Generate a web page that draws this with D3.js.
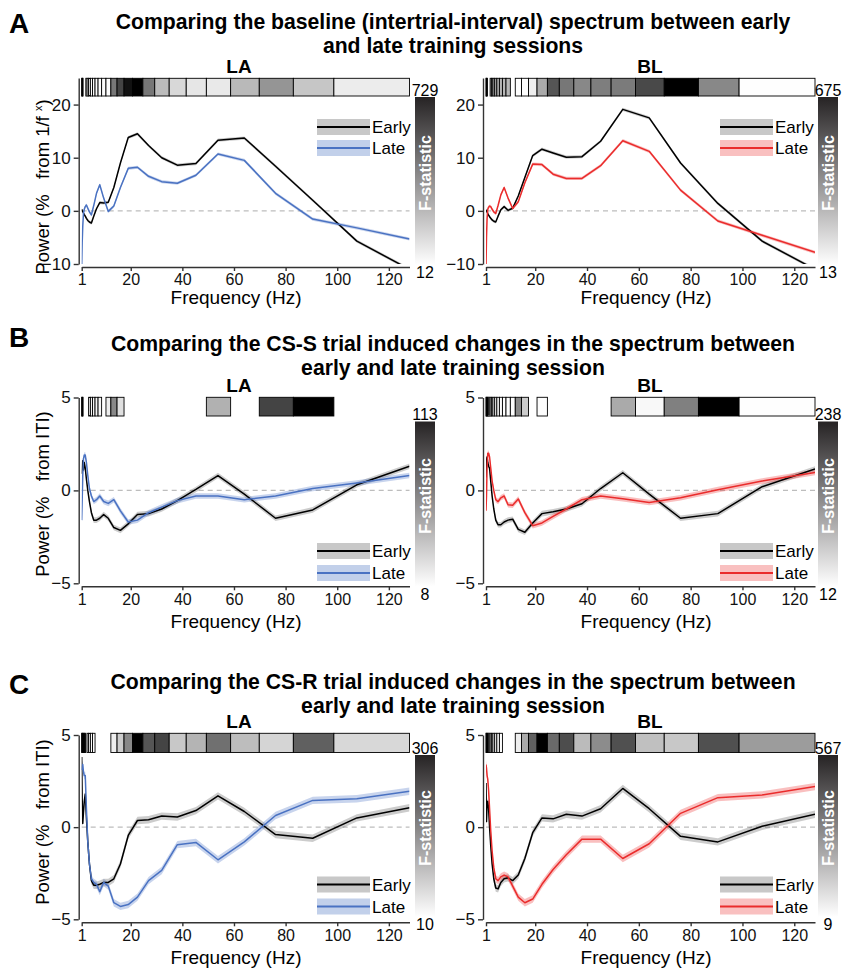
<!DOCTYPE html>
<html>
<head>
<meta charset="utf-8">
<script src="https://cdn.jsdelivr.net/npm/d3@7"></script>
<style>
  body { margin: 0; background: #fff; }
  svg { display: block; }
  text { font-family: "Liberation Sans", Arial, Helvetica, sans-serif; }
</style>
</head>
<body>
<div id="chart"></div>
<script>
// Frequencies (Hz) of the spectrum bins
const freqs = [1, 1.19, 1.41, 1.68, 2, 2.38, 2.83, 3.36, 4, 4.76, 5.66, 6.73, 8, 9.51, 11.3, 13.45,
    16, 19.03, 22.6, 26.9, 32, 38.05, 45.25, 53.8, 64, 76.1, 90.5, 107.6, 128];
// Edges of the F-statistic cells (the last cell covers the two top bins)
const cellEdges = [1, 1.09, 1.3, 1.54, 1.83, 2.18, 2.59, 3.08, 3.67, 4.36, 5.19, 6.17, 7.34, 8.72,
    10.4, 12.3, 14.7, 17.4, 20.7, 24.7, 29.3, 34.9, 41.5, 49.3, 58.7, 69.8, 83, 98.7, 128];
const xTicks = [1, 20, 40, 60, 80, 100, 120];

// A: baseline spectrum
const aLaEarly = [0.3, 0.0, -0.1, -0.4, -0.7, -1.0, -1.4, -1.8, -2.1, -2.3, -1.0, 0.4, 1.55, 1.5, 1.6, 4.4,
    9.0, 13.8, 14.5, 12.3, 10.0, 8.6, 8.9, 13.3, 13.7, 8.4, 2.0, -5.7, -11];
const aLaLate = [-10.5, -6, -2.9, -0.5, 0.3, 0.8, 1.1, 0.5, -0.2, -0.75, 1.0, 3.3, 4.9, 2.4, -0.1, 0.9,
    4.4, 8.0, 8.2, 6.5, 5.5, 5.2, 6.7, 10.7, 9.5, 3.3, -1.55, -3.2, -5.3];
const aBlEarly = [0.2, 0.0, -0.2, -0.5, -0.8, -1.1, -1.4, -1.7, -1.95, -2.1, -1.0, 0.2, 0.8, 0.1, 0.5, 2.8,
    6.3, 10.4, 11.6, 10.9, 10.1, 10.2, 13.1, 19.1, 17.5, 9.0, 1.4, -5.7, -11];
const aBlLate = [-10.5, -5, -1.5, 0.3, 0.7, 0.9, 0.8, 0.3, -0.2, -0.5, 1.0, 3.0, 4.4, 2.4, 0.45, 1.7,
    5.3, 8.8, 8.7, 6.9, 6.1, 6.1, 8.5, 13.2, 11.2, 3.9, -1.9, -4.6, -7.8];
const aLaF = [729, 710, 690, null, null, null, 20, 20, 20, 20, 20, 20, 20, 20, 20,
    394, 538, 681, 729, 394, 203, 122, 82, 74, 209, 310, 172, 65];
const aBlF = [675, 660, 640, null, null, null, 200, 200, 200, 200, 200, 200, 200, 200, null,
    15, 15, 57, 234, 454, 366, 322, 348, 356, 486, 675, 322, 15];
const aLaRange = [12, 729];
const aBlRange = [13, 675];

// B: CS-S trial induced changes
const bLaEarly = [0.9, 1.3, 1.6, 1.1, 1.5, 1.2, 0.6, 0.0, -0.6, -1.2, -1.6, -1.6, -1.5, -1.3, -1.5, -2.0,
    -2.15, -1.8, -1.3, -1.25, -1.0, -0.55, 0.05, 0.8, -0.2, -1.5, -1.05, 0.3, 1.3];
const bLaLate = [-1.6, -0.5, 0.8, 1.7, 1.9, 1.9, 1.5, 0.8, 0.1, -0.3, -0.6, -0.5, -0.3, -0.6, -0.7, -0.5,
    -1.1, -1.7, -1.6, -1.2, -0.9, -0.55, -0.3, -0.3, -0.5, -0.3, 0.1, 0.4, 0.8];
const bBlEarly = [0.7, 1.6, 1.8, 1.5, 1.3, 1.2, 0.5, -0.3, -1.0, -1.6, -1.85, -1.85, -1.7, -1.6, -1.55, -2.1,
    -2.25, -1.75, -1.25, -1.15, -1.0, -0.72, 0.1, 0.95, -0.2, -1.5, -1.25, 0.2, 1.15];
const bBlLate = [-1.1, -0.3, 1.2, 2.0, 2.0, 1.8, 1.2, 0.5, 0.0, -0.5, -0.6, -0.4, -0.3, -0.77, -0.8, -0.46,
    -1.2, -1.9, -1.75, -1.4, -1.0, -0.5, -0.3, -0.45, -0.65, -0.4, 0.04, 0.5, 0.97];
const bLaF = [113, 110, 108, null, null, null, null, null, 12, 12, 12, 12, 12, null, 15,
    57, 21, null, null, null, null, null, null, 40, null, 85, 113, null];
const bBlF = [238, 235, 232, 230, 14, 14, 14, 14, 14, 14, 14, 14, 14, 14, 14,
    117, 57, null, 14, null, null, null, null, 87, 18, 125, 238, 13];
const bLaRange = [8, 113];
const bBlRange = [12, 238];

// C: CS-R trial induced changes
const cLaEarly = [3.8, 1.5, 0.2, 0.8, 1.4, 1.8, 0.5, -0.8, -2.0, -2.9, -3.15, -3.15, -3.1, -3.0, -3.0, -2.8,
    -2.0, -0.45, 0.36, 0.4, 0.6, 0.55, 0.9, 1.7, 0.85, -0.4, -0.6, 0.5, 1.05];
const cLaLate = [3.1, 3.3, 3.4, 3.0, 2.8, 2.8, 1.0, -0.8, -2.0, -2.8, -3.0, -3.1, -3.5, -3.0, -3.2, -4.1,
    -4.3, -4.2, -3.8, -2.9, -2.35, -0.95, -0.83, -1.77, -0.8, 0.63, 1.45, 1.54, 1.95];
const cBlEarly = [2.4, 0.3, 1.2, 1.4, 1.0, 0.0, -1.0, -2.0, -2.8, -3.3, -3.35, -3.0, -2.8, -2.75, -2.9, -2.6,
    -1.7, -0.3, 0.5, 0.45, 0.7, 0.6, 1.0, 2.1, 1.0, -0.5, -0.8, 0.05, 0.7];
const cBlLate = [3.4, 3.2, 2.8, 2.6, 2.0, 1.0, -0.2, -1.3, -2.2, -2.8, -2.9, -2.7, -2.6, -2.7, -3.2, -3.8,
    -4.1, -3.9, -3.1, -2.3, -1.5, -0.65, -0.65, -1.7, -0.9, 0.75, 1.6, 1.75, 2.2];
const cLaF = [306, 306, 300, 300, 300, 300, null, 12, 12, 12, 12, null, null, null, null,
    30, 69, 148, 306, 207, 227, 74, 97, 176, 87, 59, 195, 55];
const cBlF = [567, 560, 555, 550, 12, 12, 12, 12, 12, 12, 12, 12, null, null, null,
    46, 195, 357, 567, 335, 398, 158, 261, 392, 147, 129, 392, 226];
const cLaRange = [10, 306];
const cBlRange = [9, 567];

// Half width of the shaded error band, per row
const bandHalf = [0.3, 0.15, 0.2];

const titles = [
    ["Comparing the baseline (intertrial-interval) spectrum between early", "and late training sessions"],
    ["Comparing the CS-S trial induced changes in the spectrum between", "early and late training session"],
    ["Comparing the CS-R trial induced changes in the spectrum between", "early and late training session"]
];
const letters = ["A", "B", "C"];
const regions = ["LA", "BL"];
const seriesNames = ["Early", "Late"];

// Colours
const earlyColor = "#000";
const earlyBand = "rgba(0,0,0,0.2)";
const earlyLegendBand = "#c8c8c8";
const lateColors = ["#4a72c2", "#ea2c2c"];
const lateBands = ["rgba(74,114,194,0.3)", "rgba(234,44,44,0.3)"];
const lateLegendBands = ["#c2d0ea", "#f9c0c0"];

// Layout
const cols = [
    {x0: 81.7, x1: 409.5, cbX: 415, legX: 317, subX: 239, xlabX: 236},
    {x0: 486, x1: 815, cbX: 818, legX: 720, subX: 650, xlabX: 646}
];
const rows = [
    {yDomain: [-10, 25], yBottom: 264, yTop: 78, ticks: [-10, 0, 10, 20], stripTop: 78.3, stripH: 17.7,
     cbTop: 97, cbBottom: 265, legY: [127, 148], subY: 73, xlabY: 304, ylabY: 187, letterY: 33, titleY: [28.5, 53]},
    {yDomain: [-5, 5], yBottom: 583.3, yTop: 397.5, ticks: [-5, 0, 5], stripTop: 397.3, stripH: 18.7,
     cbTop: 421.5, cbBottom: 586.5, legY: [551, 573], subY: 392, xlabY: 628, ylabY: 494, letterY: 347, titleY: [351, 375]},
    {yDomain: [-5, 5], yBottom: 919.3, yTop: 735, ticks: [-5, 0, 5], stripTop: 733.3, stripH: 19.2,
     cbTop: 755, cbBottom: 917, legY: [884.5, 906.5], subY: 727.5, xlabY: 964, ylabY: 822, letterY: 694, titleY: [689, 713]}
];

const panels = [
    [{early: aLaEarly, late: aLaLate, f: aLaF, range: aLaRange}, {early: aBlEarly, late: aBlLate, f: aBlF, range: aBlRange}],
    [{early: bLaEarly, late: bLaLate, f: bLaF, range: bLaRange}, {early: bBlEarly, late: bBlLate, f: bBlF, range: bBlRange}],
    [{early: cLaEarly, late: cLaLate, f: cLaF, range: cLaRange}, {early: cBlEarly, late: cBlLate, f: cBlF, range: cBlRange}]
];

const svg = d3.select("#chart").append("svg")
    .attr("width", 853)
    .attr("height", 968)
    .attr("viewBox", "0 0 853 968");

const defs = svg.append("defs");
const grad = defs.append("linearGradient")
    .attr("id", "fgrad")
    .attr("x1", 0).attr("y1", 1).attr("x2", 0).attr("y2", 0);
grad.append("stop").attr("offset", "0%").attr("stop-color", "#ffffff");
grad.append("stop").attr("offset", "100%").attr("stop-color", "#262324");

const drawPanel = function(row, col, data, ri, ci) {
    const x = d3.scaleLinear().domain([1, 128]).range([col.x0, col.x1]);
    const y = d3.scaleLinear().domain(row.yDomain).range([row.yBottom, row.yTop]);
    const grey = d3.scaleLinear().domain(data.range).range(["#ffffff", "#000000"]).clamp(true);
    const g = svg.append("g");

    const clipId = `clip-${ri}-${ci}`;
    defs.append("clipPath").attr("id", clipId)
        .append("rect")
        .attr("x", col.x0).attr("y", row.yTop)
        .attr("width", col.x1 - col.x0).attr("height", row.yBottom - row.yTop);

    // F-statistic cells
    const cells = data.f.map((v, i) => ({v, lo: cellEdges[i], hi: cellEdges[i + 1]}))
        .filter(d => d.v !== null);
    g.append("g").selectAll("rect")
        .data(cells)
        .join("rect")
        .attr("x", d => x(d.lo))
        .attr("y", row.stripTop)
        .attr("width", d => x(d.hi) - x(d.lo))
        .attr("height", row.stripH)
        .attr("fill", d => grey(d.v))
        .attr("stroke", "#000")
        .attr("stroke-width", 0.9);

    // zero line
    g.append("line")
        .attr("x1", x(1)).attr("x2", x(128))
        .attr("y1", y(0)).attr("y2", y(0))
        .attr("stroke", "#bdbdbd")
        .attr("stroke-width", 1.3)
        .attr("stroke-dasharray", "5,4");

    const half = bandHalf[ri];
    const area = d3.area()
        .x((d, i) => x(freqs[i]))
        .y0(d => y(d - half))
        .y1(d => y(d + half));
    const line = d3.line()
        .x((d, i) => x(freqs[i]))
        .y(d => y(d));

    const plot = g.append("g").attr("clip-path", `url(#${clipId})`);
    const series = [
        {vals: data.early, color: earlyColor, band: earlyBand},
        {vals: data.late, color: lateColors[ci], band: lateBands[ci]}
    ];
    series.forEach(s => {
        plot.append("path").datum(s.vals)
            .attr("d", area)
            .attr("fill", s.band);
    });
    series.forEach(s => {
        plot.append("path").datum(s.vals)
            .attr("d", line)
            .attr("fill", "none")
            .attr("stroke", s.color)
            .attr("stroke-width", 1.5)
            .attr("stroke-linejoin", "round");
    });

    // axes
    const yAxis = g.append("g")
        .attr("transform", `translate(${col.x0 - 3},0)`)
        .call(d3.axisLeft(y).tickValues(row.ticks).tickSize(5).tickSizeOuter(0).tickPadding(3));
    const xAxis = g.append("g")
        .attr("transform", `translate(0,${row.yBottom + 3})`)
        .call(d3.axisBottom(x).tickValues(xTicks).tickSize(4).tickSizeOuter(0).tickPadding(3));
    [yAxis, xAxis].forEach(a => {
        a.select(".domain").attr("stroke", "#333").attr("stroke-width", 1.4);
        a.selectAll(".tick line").attr("stroke", "#333").attr("stroke-width", 1.4);
        a.selectAll(".tick text").attr("fill", "#111")
            .style("font-family", '"Liberation Sans", Arial, sans-serif');
    });
    yAxis.selectAll(".tick text").style("font-size", "17px");
    xAxis.selectAll(".tick text").style("font-size", "16px");

    g.append("text")
        .attr("x", col.xlabX).attr("y", row.xlabY)
        .attr("text-anchor", "middle")
        .style("font-size", "19px")
        .text("Frequency (Hz)");

    g.append("text")
        .attr("x", col.subX).attr("y", row.subY)
        .attr("text-anchor", "middle")
        .style("font-size", "19px").style("font-weight", "bold")
        .text(regions[ci]);

    // colour bar
    g.append("rect")
        .attr("x", col.cbX).attr("y", row.cbTop)
        .attr("width", 20).attr("height", row.cbBottom - row.cbTop)
        .attr("fill", "url(#fgrad)");
    g.append("text")
        .attr("x", col.cbX + 10).attr("y", row.cbTop - 1.5)
        .attr("text-anchor", "middle")
        .style("font-size", "16px")
        .text(data.range[1]);
    g.append("text")
        .attr("x", col.cbX + 10).attr("y", row.cbBottom + 13)
        .attr("text-anchor", "middle")
        .style("font-size", "16px")
        .text(data.range[0]);
    const cbMid = (row.cbTop + row.cbBottom) / 2 - 8;
    g.append("text")
        .attr("transform", `translate(${col.cbX + 16},${cbMid}) rotate(-90)`)
        .attr("text-anchor", "middle")
        .attr("fill", "#fff")
        .style("font-size", "16px").style("font-weight", "bold")
        .text("F-statistic");

    // legend
    const legend = g.append("g");
    seriesNames.forEach((name, i) => {
        const cy = row.legY[i];
        legend.append("rect")
            .attr("x", col.legX).attr("y", cy - 8)
            .attr("width", 53).attr("height", 16)
            .attr("fill", i === 0 ? earlyLegendBand : lateLegendBands[ci]);
        legend.append("line")
            .attr("x1", col.legX).attr("x2", col.legX + 53)
            .attr("y1", cy).attr("y2", cy)
            .attr("stroke", i === 0 ? earlyColor : lateColors[ci])
            .attr("stroke-width", 2);
        legend.append("text")
            .attr("x", col.legX + 55).attr("y", cy + 6)
            .style("font-size", "17px")
            .text(name);
    });
};

rows.forEach((row, ri) => {
    svg.append("text")
        .attr("x", 9).attr("y", row.letterY)
        .style("font-size", "28px").style("font-weight", "bold")
        .text(letters[ri]);
    titles[ri].forEach((t, k) => {
        svg.append("text")
            .attr("x", 453).attr("y", row.titleY[k])
            .attr("text-anchor", "middle")
            .style("font-size", "21.2px").style("font-weight", "bold")
            .text(t);
    });

    // y label
    const yl = svg.append("text")
        .attr("transform", `translate(49,${row.ylabY}) rotate(-90)`)
        .attr("text-anchor", "middle")
        .style("font-size", "18.5px")
        .style("white-space", "pre");
    if (ri === 0) {
        yl.append("tspan").text("Power (%   from 1/f ");
        yl.append("tspan").attr("dy", -7).style("font-size", "11px").text("x");
        yl.append("tspan").attr("dy", 7).text(")");
    } else {
        yl.text("Power (%   from ITI)");
    }

    cols.forEach((col, ci) => drawPanel(row, col, panels[ri][ci], ri, ci));
});
</script>
</body>
</html>
